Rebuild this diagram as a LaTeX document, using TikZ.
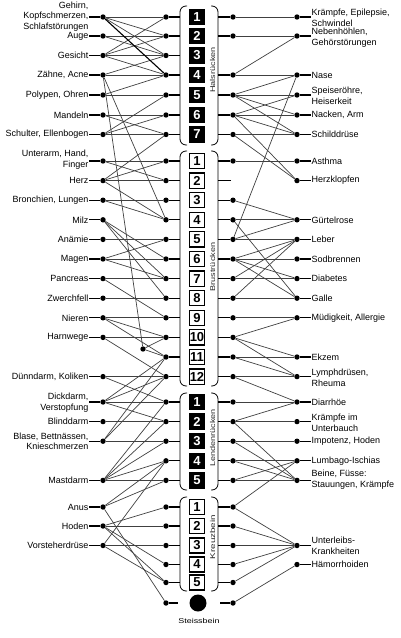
\documentclass[tikz,border=0pt]{standalone}
\usepackage{fontspec}
\setmainfont{Liberation Sans}
\usepackage{graphicx}
\newcommand\lorg[4]{%
  \node[dot] (#1) at (103,#2) {};
  \node[llab] (#1-t) at (89,#3) {#4};
  \draw[stub] (#1) -- (#1-t.east |- #1);}
\newcommand\rorg[4]{%
  \node[dot] (#1) at (297,#2) {};
  \node[rlab] (#1-t) at (311,#3) {#4};
  \draw[stub] (#1) -- (#1-t.west |- #1);}
\begin{document}
\begin{tikzpicture}[x=1pt,y=-1pt,
  dot/.style={circle,fill=black,inner sep=0pt,minimum size=5.4pt},
  lab/.style={font=\fontsize{9}{10.8}\selectfont,inner sep=0.5pt},
  llab/.style={lab,anchor=east,align=right},
  rlab/.style={lab,anchor=west,align=left},
  stub/.style={line width=1.3pt},
  con/.style={line width=0.7pt,black!75},
  boldcon/.style={line width=1.1pt,black},
  numfont/.style={font=\fontsize{13}{13}\selectfont\bfseries},
  blackbox/.style={numfont,fill=black,text=white,minimum width=16.5pt,minimum height=16.5pt,inner sep=0pt},
  whitebox/.style={numfont,draw=black,line width=1.3pt,fill=white,text=black,minimum width=15.2pt,minimum height=15.2pt,inner sep=0pt},
  brk/.style={line width=0.8pt,rounded corners=6pt},
  vlab/.style={rotate=90,font=\fontsize{7}{8}\selectfont,inner sep=0pt,text=black!85}
]
\useasboundingbox (0,0) rectangle (400,638);

% ---------- spine brackets ----------
\foreach \tp/\bt in {6/145,151/386,393/490,497/591}{
  \draw[brk] (187,\tp) -- (180,\tp) -- (180,\bt) -- (187,\bt);
  \draw[brk] (211,\tp) -- (218,\tp) -- (218,\bt) -- (211,\bt);
}

% ---------- vertebrae ----------
\foreach \n/\y in {1/17,2/36,3/55.5,4/75,5/95,6/115,7/134.5}{
  \node[blackbox] (c\n) at (197,\y) {\n};
  \node[dot] (Lc\n) at (166,\y) {};
  \draw[stub] (Lc\n) -- (c\n.west -| 180,0);
}
\foreach \n/\y in {1/17,2/36,4/75,5/95,6/115,7/134.5}{
  \node[dot] (Rc\n) at (233,\y) {};
  \draw[stub] (Rc\n) -- (c\n.east -| 218,0);
}
\foreach \n/\y in {1/161,2/180.6,3/200.2,4/219.8,5/239.4,6/259,7/278.6,8/298.2,9/317.8,10/337.4,11/357,12/376.6}{
  \node[whitebox] (t\n) at (197,\y) {\n};
  \node[dot] (Lt\n) at (166,\y) {};
  \draw[stub] (Lt\n) -- (t\n.west -| 180,0);
}
\foreach \n/\y in {1/161,3/200.2,4/219.8,5/239.4,6/259,7/278.6,8/298.2,9/317.8,10/337.4,11/357,12/376.6}{
  \node[dot] (Rt\n) at (233,\y) {};
  \draw[stub] (Rt\n) -- (t\n.east -| 218,0);
}
\coordinate (Rt2) at (231,180.6);
\draw[stub] (Rt2) -- (t2.east -| 218,0);
\foreach \n/\y in {1/402,2/421.6,3/441.2,4/460.8,5/480.4}{
  \node[blackbox] (l\n) at (197,\y) {\n};
  \node[dot] (Ll\n) at (166,\y) {};
  \draw[stub] (Ll\n) -- (l\n.west -| 180,0);
  \node[dot] (Rl\n) at (233,\y) {};
  \draw[stub] (Rl\n) -- (l\n.east -| 218,0);
}
\foreach \n/\y in {1/507,2/526,3/545.5,4/564.5,5/582.5}{
  \node[whitebox] (s\n) at (197,\y) {\n};
  \node[dot] (Ls\n) at (166,\y) {};
  \draw[stub] (Ls\n) -- (s\n.west -| 180,0);
  \node[dot] (Rs\n) at (233,\y) {};
  \draw[stub] (Rs\n) -- (s\n.east -| 218,0);
}
\node[circle,fill=black,minimum size=17pt,inner sep=0pt] (co) at (198,603) {};
\node[dot] (Lco) at (166,603) {};
\node[dot] (Rco) at (233,603) {};
\draw[stub] (Lco) -- (178,603);
\draw[stub] (Rco) -- (220,603);
\node[font=\fontsize{7}{8}\selectfont,inner sep=0pt] (steiss) at (199,621) {\scalebox{1.28}[1]{Steissbein}};

% ---------- region labels ----------
\node[vlab] (hals) at (212.5,70) {\scalebox{1.3}[1]{Halsrücken}};
\node[vlab] (brust) at (212.5,267) {\scalebox{1.3}[1]{Brustrücken}};
\node[vlab] (lende) at (212.5,438) {\scalebox{1.3}[1]{Lendenrücken}};
\node[vlab] (kreuz) at (212.5,537) {\scalebox{1.4}[1]{Kreuzbein}};

% ---------- left labels ----------
\lorg{gehirn}{17}{16.5}{Gehirn,\\Kopfschmerzen,\\Schlafstörungen}
\lorg{auge}{36}{36}{Auge}
\lorg{gesicht}{55.5}{55.5}{Gesicht}
\lorg{zaehne}{75}{75}{Zähne, Acne}
\lorg{polypen}{95}{95}{Polypen, Ohren}
\lorg{mandeln}{115}{115}{Mandeln}
\lorg{schulter}{134.5}{134.5}{Schulter, Ellenbogen}
\lorg{unterarm}{161}{160}{Unterarm, Hand,\\Finger}
\lorg{herz}{180.6}{180.6}{Herz}
\lorg{bronchien}{200.2}{200.2}{Bronchien, Lungen}
\lorg{milz}{219.8}{219.8}{Milz}
\lorg{anaemie}{239.4}{239.4}{Anämie}
\lorg{magen}{259}{259}{Magen}
\lorg{pancreas}{278.6}{278.6}{Pancreas}
\lorg{zwerchfell}{298.2}{298.2}{Zwerchfell}
\lorg{nieren}{317.8}{317.8}{Nieren}
\lorg{harnwege}{337.4}{337.4}{Harnwege}
\lorg{duenndarm}{376.6}{376.6}{Dünndarm, Koliken}
\lorg{dickdarm}{402}{402.5}{Dickdarm,\\Verstopfung}
\lorg{blinddarm}{421.6}{421.6}{Blinddarm}
\lorg{blase}{441.2}{441.2}{Blase, Bettnässen,\\Knieschmerzen}
\lorg{mastdarm}{480.4}{480.4}{Mastdarm}
\lorg{anus}{507}{507}{Anus}
\lorg{hoden}{526}{526}{Hoden}
\lorg{vorsteher}{545.5}{545.5}{Vorsteherdrüse}
\node[dot] (J) at (143,349) {};

% ---------- right labels ----------
\rorg{kraempfe}{17}{17.5}{Krämpfe, Epilepsie,\\Schwindel}
\rorg{nebenhoehlen}{36}{38}{Nebenhöhlen,\\Gehörstörungen}
\rorg{nase}{75}{75}{Nase}
\rorg{speiseroehre}{95}{95.5}{Speiseröhre,\\Heiserkeit}
\rorg{nacken}{115}{115}{Nacken, Arm}
\rorg{schilddruese}{134.5}{134.5}{Schilddrüse}
\rorg{asthma}{161}{161}{Asthma}
\rorg{herzklopfen}{180.6}{180.6}{Herzklopfen}
\rorg{guertelrose}{219.8}{219.8}{Gürtelrose}
\rorg{leber}{239.4}{239.4}{Leber}
\rorg{sodbrennen}{259}{259}{Sodbrennen}
\rorg{diabetes}{278.6}{278.6}{Diabetes}
\rorg{galle}{298.2}{298.2}{Galle}
\rorg{muedigkeit}{317.8}{317.8}{Müdigkeit, Allergie}
\rorg{ekzem}{357}{357}{Ekzem}
\rorg{lymph}{376.6}{378}{Lymphdrüsen,\\Rheuma}
\rorg{diarrhoe}{402}{402}{Diarrhöe}
\rorg{kraempfeU}{421.6}{422.5}{Krämpfe im\\Unterbauch}
\rorg{impotenz}{441.2}{441.2}{Impotenz, Hoden}
\rorg{lumbago}{460.8}{460.8}{Lumbago-Ischias}
\rorg{beine}{480.4}{480}{Beine, Füsse:\\Stauungen, Krämpfe}
\rorg{unterleib}{545.5}{546}{Unterleibs-\\Krankheiten}
\rorg{haemorrhoiden}{564.5}{564.5}{Hämorrhoiden}

% ---------- left connectors ----------
\foreach \a/\b in {gehirn/Lc1,gehirn/Lc2,gehirn/Lc3,
  auge/Lc2,auge/Lc3,
  gesicht/Lc1,gesicht/Lc2,gesicht/Lc3,gesicht/Lc4,
  zaehne/Lc3,zaehne/Lc4,zaehne/Lt4,zaehne/J,
  polypen/Lc4,polypen/Lc5,
  mandeln/Lc6,mandeln/Lc7,
  schulter/Lc5,schulter/Lc6,schulter/Lc7,
  unterarm/Lt1,unterarm/Lt2,
  herz/Lc7,herz/Lt1,herz/Lt2,herz/Lt4,
  bronchien/Lt3,bronchien/Lt4,
  milz/Lt6,milz/Lt7,milz/Lt8,
  anaemie/Lt5,
  magen/Lt5,magen/Lt6,magen/Lt7,
  pancreas/Lt7,pancreas/Lt9,
  zwerchfell/Lt8,
  nieren/Lt9,nieren/Lt10,nieren/Lt11,
  harnwege/Lt10,harnwege/Lt12,
  J/Lt10,J/Lt11,
  duenndarm/Lt12,duenndarm/Ll1,
  dickdarm/Lt11,dickdarm/Lt12,dickdarm/Ll1,dickdarm/Ll2,
  blinddarm/Ll2,
  blase/Lt11,blase/Lt12,blase/Ll3,
  mastdarm/Ll1,mastdarm/Ll2,mastdarm/Ll3,mastdarm/Ll4,mastdarm/Ll5,
  anus/Ll4,anus/Ll5,anus/Lco,
  hoden/Ls1,hoden/Ls2,hoden/Ls4,hoden/Ls5,
  vorsteher/Ll4,vorsteher/Ls3,vorsteher/Ls5}
  \draw[con] (\a) -- (\b);
\draw[boldcon] (gehirn) -- (Lc4);

% ---------- right connectors ----------
\foreach \a/\b in {Rc1/kraempfe,Rc2/nebenhoehlen,
  Rc4/nebenhoehlen,Rc4/nase,
  Rc5/nase,Rc5/speiseroehre,Rc5/nacken,Rc5/schilddruese,
  Rc6/speiseroehre,Rc6/nacken,Rc6/schilddruese,Rc6/herzklopfen,
  Rc7/schilddruese,Rc7/herzklopfen,
  Rt1/asthma,Rt3/guertelrose,
  Rt4/guertelrose,Rt4/galle,
  Rt5/nase,Rt5/guertelrose,Rt5/leber,
  Rt6/leber,Rt6/sodbrennen,Rt6/diabetes,Rt6/galle,
  Rt7/leber,Rt7/diabetes,
  Rt8/leber,Rt8/galle,
  Rt9/muedigkeit,
  Rt10/muedigkeit,Rt10/ekzem,Rt10/lymph,
  Rt11/ekzem,Rt11/lymph,
  Rt12/lymph,Rt12/diarrhoe,
  Rl1/diarrhoe,
  Rl2/diarrhoe,Rl2/kraempfeU,Rl2/beine,
  Rl3/impotenz,Rl3/beine,
  Rl4/lumbago,Rl4/beine,
  Rl5/lumbago,Rl5/beine,
  Rs1/lumbago,Rs1/unterleib,
  Rs2/unterleib,Rs3/unterleib,Rs4/unterleib,Rs5/unterleib,
  Rco/haemorrhoiden}
  \draw[con] (\a) -- (\b);
\end{tikzpicture}
\end{document}
